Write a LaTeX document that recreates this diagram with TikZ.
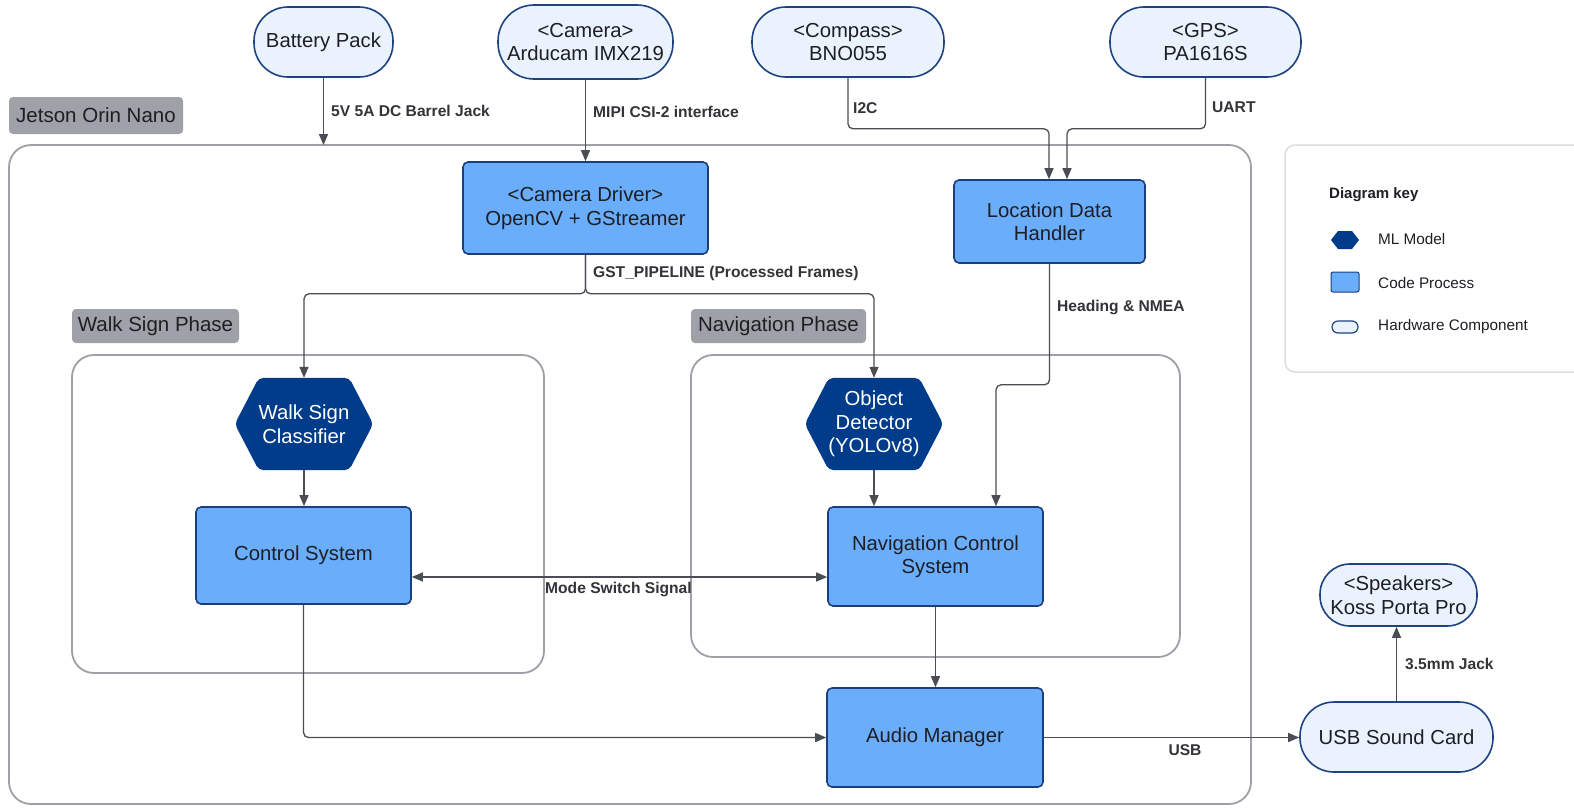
\documentclass[tikz,border=0pt]{standalone}
\usepackage{fontspec}
\setmainfont{Liberation Sans}
\usetikzlibrary{arrows.meta,backgrounds}
\definecolor{hwfill}{HTML}{EAF3FD}
\definecolor{hwstroke}{HTML}{1F4280}
\definecolor{codefill}{HTML}{6AADFB}
\definecolor{codestroke}{HTML}{1B3F7E}
\definecolor{mlfill}{HTML}{003C8A}
\definecolor{graylab}{HTML}{9EA2A8}
\definecolor{txt}{HTML}{1E1E24}
\definecolor{lbl}{HTML}{333338}
\definecolor{frame}{HTML}{9DA1A6}
\definecolor{conncol}{HTML}{4A4E54}
\definecolor{keyframe}{HTML}{DCDDDF}
\tikzset{
  mainfont/.style={font=\fontsize{20.3}{23.5}\selectfont, text=txt, align=center},
  hw/.style={mainfont, draw=hwstroke, fill=hwfill, line width=1.6pt, inner sep=0pt},
  code/.style={mainfont, draw=codestroke, fill=codefill, line width=1.6pt, rounded corners=5pt, inner sep=0pt},
  ml/.style={mainfont, text=white, inner sep=0pt, minimum width=138pt, minimum height=92pt},
  grouplab/.style={font=\fontsize{20.5}{23}\selectfont, text=txt, fill=graylab, rounded corners=4pt, inner sep=0pt},
  container/.style={draw=frame, line width=1.8pt, rounded corners=22pt},
  conn/.style={draw=conncol, line width=1.3pt, rounded corners=5pt, -{Triangle[length=11pt,width=9pt]}},
  elabel/.style={font=\fontsize{15.6}{18}\selectfont\bfseries, text=lbl, inner sep=0pt},
  keytext/.style={font=\fontsize{15.3}{18}\selectfont, text=txt, inner sep=0pt, anchor=west},
}
\begin{document}
\begin{tikzpicture}[x=1pt,y=-1pt]
\useasboundingbox (0,0) rectangle (1574,807);

% containers
\draw[container] (9,145) rectangle (1251,804);
\draw[container] (72,355) rectangle (544,673);
\draw[container] (691,355) rectangle (1180,657);
\draw[draw=keyframe, line width=1.5pt, rounded corners=10pt] (1285,145) rectangle (1600,372);

% group labels
\node[grouplab, minimum width=174pt, minimum height=37pt] (jlab) at (96,115.5) {Jetson Orin Nano};
\node[grouplab, minimum width=167pt, minimum height=34pt] (wlab) at (155.5,326) {Walk Sign Phase};
\node[grouplab, minimum width=175pt, minimum height=34pt] (nlab) at (778.5,326) {Navigation Phase};

% hardware
\node[hw, minimum width=139pt, minimum height=70pt, rounded corners=34pt] (bat) at (323.5,42) {Battery Pack};
\node[hw, minimum width=175pt, minimum height=74pt, rounded corners=36pt] (cam) at (585.5,42) {<Camera>\\Arducam IMX219};
\node[hw, minimum width=192pt, minimum height=70pt, rounded corners=34pt] (comp) at (848,42) {<Compass>\\BNO055};
\node[hw, minimum width=191pt, minimum height=70pt, rounded corners=34pt] (gps) at (1205.5,42) {<GPS>\\PA1616S};
\node[hw, minimum width=193pt, minimum height=70pt, rounded corners=34pt] (usb) at (1396.5,737) {USB Sound Card};
\node[hw, minimum width=157pt, minimum height=62pt, rounded corners=30pt] (spk) at (1398.5,595) {<Speakers>\\Koss Porta Pro};

% code processes
\node[code, minimum width=245pt, minimum height=92pt] (camdrv) at (585.5,208) {<Camera Driver>\\OpenCV + GStreamer};
\node[code, minimum width=191pt, minimum height=83pt] (loc) at (1049.5,221.5) {Location Data\\Handler};
\node[code, minimum width=215pt, minimum height=97pt] (cs) at (303.5,555.5) {Control System};
\node[code, minimum width=215pt, minimum height=99pt] (ncs) at (935.5,556.5) {Navigation Control\\System};
\node[code, minimum width=216pt, minimum height=99pt] (am) at (935,737.5) {Audio Manager};

% ML models
\node[ml] (wsc) at (304,424) {Walk Sign\\Classifier};
\node[ml] (od) at (874,424) {Object\\Detector\\(YOLOv8)};
\begin{pgfonlayer}{background}
\fill[white] (0,0) rectangle (1574,807);
\foreach \n in {wsc,od}{
  \fill[mlfill, rounded corners=5pt] (\n.west) -- ([xshift=24pt]\n.north west) -- ([xshift=-24pt]\n.north east)
    -- (\n.east) -- ([xshift=-24pt]\n.south east) -- ([xshift=24pt]\n.south west) -- cycle;
}
\end{pgfonlayer}

% connectors
\coordinate (jtop) at (323.5,145);
\draw[conn] (bat.south) -- (jtop);
\draw[conn] (cam.south) -- (camdrv.north);
\draw[conn] (comp.south) -- ++(0,51) -| ([xshift=-0.5pt]loc.north);
\draw[conn] (gps.south) -- ++(0,51) -| ([xshift=17.5pt]loc.north);
\draw[conn] (camdrv.south) -- ++(0,39) -| (wsc.north);
\draw[conn] (camdrv.south) -- ++(0,39) -| (od.north);
\draw[conn] (loc.south) -- ++(0,121) -| ([xshift=60.5pt]ncs.north);
\draw[conn] (od.south) -- (od.south |- ncs.north);
\draw[conn] (wsc.south) -- (wsc.south |- cs.north);
\draw[conn, {Triangle[length=11pt,width=9pt]}-{Triangle[length=11pt,width=9pt]}] ([yshift=-21.5pt]cs.east) -- ([yshift=-21.5pt]cs.east -| ncs.west);
\draw[conn] (cs.south) |- (am.west);
\draw[conn] (ncs.south) -- (ncs.south |- am.north);
\draw[conn] (am.east) -- (am.east -| usb.west);
\draw[conn] (usb.north) -- (usb.north |- spk.south);

% connector labels
\node[elabel, anchor=west] (l1) at (331,111) {5V 5A DC Barrel Jack};
\node[elabel, anchor=west] (l2) at (593,112) {MIPI CSI-2 interface};
\node[elabel, anchor=west] (l3) at (853,108) {I2C};
\node[elabel, anchor=west] (l4) at (1212,107) {UART};
\node[elabel, anchor=west] (l5) at (593,273) {GST\_PIPELINE (Processed Frames)};
\node[elabel, anchor=west] (l6) at (1057,307) {Heading \& NMEA};
\node[elabel, anchor=west] (l7) at (545,589) {Mode Switch Signal};
\node[elabel] (l8) at (1185,750) {USB};
\node[elabel, anchor=west] (l9) at (1405,664) {3.5mm Jack};

% legend
\node[elabel, anchor=west, text=txt, font=\fontsize{15}{18}\selectfont\bfseries] (keyt) at (1329,195) {Diagram key};
\fill[mlfill] (1331,240) -- (1338,231) -- (1352,231) -- (1359,240) -- (1352,249) -- (1338,249) -- cycle;
\node[keytext] (k1) at (1378,239) {ML Model};
\draw[codestroke, fill=codefill, line width=1pt, rounded corners=2pt] (1331,272) rectangle (1359,292);
\node[keytext] (k2) at (1378,283) {Code Process};
\draw[hwstroke, fill=hwfill, line width=1.2pt, rounded corners=6pt] (1332,321) rectangle (1358,333);
\node[keytext] (k3) at (1378,327) {Hardware Component};
\end{tikzpicture}
\end{document}
